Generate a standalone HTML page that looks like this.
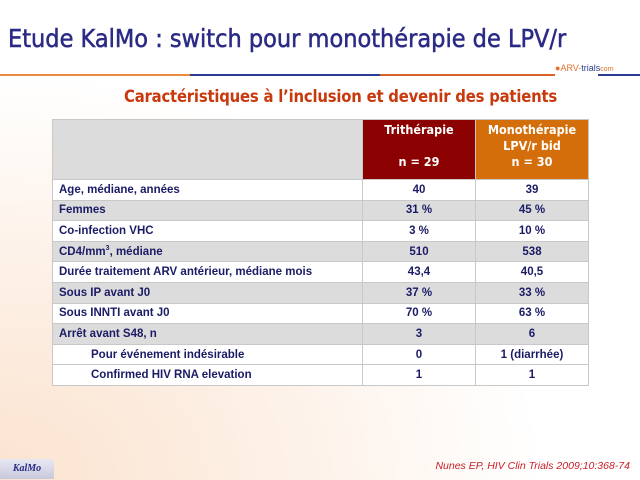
<!DOCTYPE html>
<html><head><meta charset="utf-8"><style>
body{margin:0;width:640px;height:480px;overflow:hidden;position:relative;font-family:"Liberation Sans",sans-serif;
background:radial-gradient(ellipse at 0% 100%,#fbe3cf 0%,#fdf0e6 30%,#fff 60%);}
.title{position:absolute;left:8px;top:24px;font-size:25px;color:#2b2b86;font-family:"DejaVu Sans Condensed","Liberation Sans Narrow",sans-serif;white-space:nowrap;-webkit-text-stroke:0.5px #2b2b86}
.line{position:absolute;top:74px;height:2px}
.sub{position:absolute;left:124px;top:87px;font-size:16.5px;font-weight:bold;color:#c8390e;font-family:"DejaVu Sans Condensed",sans-serif;white-space:nowrap;letter-spacing:-0.2px}
table{position:absolute;left:52px;top:119px;border-collapse:collapse;font-size:11.5px;font-weight:bold;color:#1b1b66}
td{height:19.6px;padding:0 0 0 6px;border:1px solid #c8c8c8;white-space:nowrap}
td.v{text-align:center;padding:0}
tr.g td{background:#dcdcdc}
tr.w td{background:#fff}
.hd td{height:57px}
.ind{padding-left:38px}
.foot{position:absolute;right:10px;top:460px;font-size:10.5px;color:#c8202a;font-style:italic}
.kal{position:absolute;left:0;top:459px;width:54px;height:20px;background:linear-gradient(#e8e8f4,#c8c8dc);border-radius:0 4px 0 0;font:italic bold 10px "Liberation Serif",serif;color:#2b2b86;text-align:center;line-height:20px}
</style></head><body>
<div class="title">Etude KalMo : switch pour monothérapie de LPV/r</div>
<div class="line" style="left:0;width:190px;background:#e98a3c"></div>
<div class="line" style="left:190px;width:190px;background:#2b3d8f"></div>
<div class="line" style="left:380px;width:175px;background:#d9622b"></div>
<div class="line" style="left:598px;width:42px;background:#2b3d8f"></div>
<div style="position:absolute;left:555px;top:63px;font-size:9px;color:#e0702a">●<span style="color:#e0702a">ARV-</span><span style="color:#2b3d8f">trials</span><span style="color:#e0702a;font-size:7px">com</span></div>
<div class="sub">Caractéristiques à l’inclusion et devenir des patients</div>
<table>
<tr class="hd"><td style="width:303px;background:#dcdcdc"></td>
<td class="v" style="width:112px;background:#8b0000;color:#fff;font-family:'DejaVu Sans Condensed',sans-serif;font-size:12.5px;vertical-align:top;padding-top:2px;line-height:16px">Trithérapie<br><br>n = 29</td>
<td class="v" style="width:112px;background:#d36e0a;color:#fff;font-family:'DejaVu Sans Condensed',sans-serif;font-size:12.5px;vertical-align:top;padding-top:2px;line-height:16px">Monothérapie<br>LPV/r bid<br>n = 30</td></tr>
<tr class="w"><td>Age, médiane, années</td><td class="v">40</td><td class="v">39</td></tr>
<tr class="g"><td>Femmes</td><td class="v">31 %</td><td class="v">45 %</td></tr>
<tr class="w"><td>Co-infection VHC</td><td class="v">3 %</td><td class="v">10 %</td></tr>
<tr class="g"><td>CD4/mm<sup style="font-size:7px">3</sup>, médiane</td><td class="v">510</td><td class="v">538</td></tr>
<tr class="w"><td>Durée traitement ARV antérieur, médiane mois</td><td class="v">43,4</td><td class="v">40,5</td></tr>
<tr class="g"><td>Sous IP avant J0</td><td class="v">37 %</td><td class="v">33 %</td></tr>
<tr class="w"><td>Sous INNTI avant J0</td><td class="v">70 %</td><td class="v">63 %</td></tr>
<tr class="g"><td>Arrêt avant S48, n</td><td class="v">3</td><td class="v">6</td></tr>
<tr class="w"><td class="ind">Pour événement indésirable</td><td class="v">0</td><td class="v">1 (diarrhée)</td></tr>
<tr class="w"><td class="ind">Confirmed HIV RNA elevation</td><td class="v">1</td><td class="v">1</td></tr>
</table>
<div class="kal">KalMo</div>
<div class="foot">Nunes EP, HIV Clin Trials 2009;10:368-74</div>
</body></html>
